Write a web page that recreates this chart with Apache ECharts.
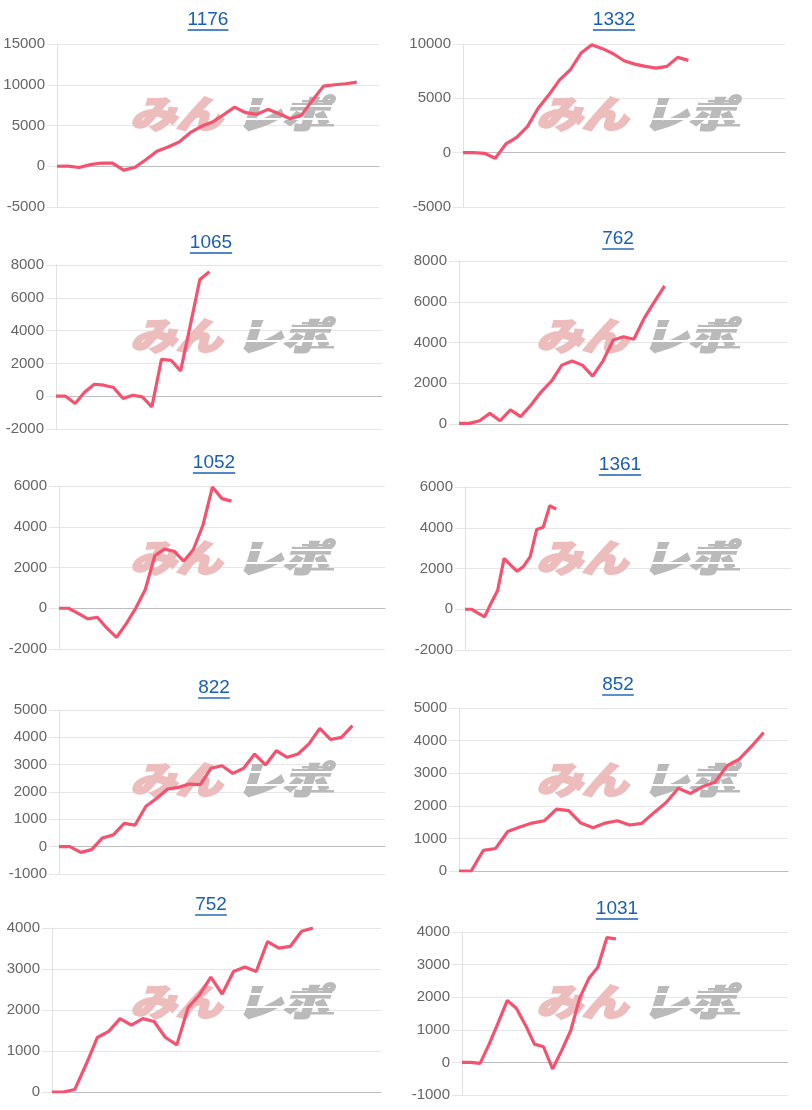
<!DOCTYPE html>
<html><head><meta charset="utf-8">
<script src="https://cdn.jsdelivr.net/npm/echarts@6/dist/echarts.min.js"></script>
<style>html,body{margin:0;padding:0;background:#fff}#c{width:812px;height:1110px}</style>
</head><body><div id="c"></div>
<script>
// ---- data ----
const chartTitles = ['1176','1332','1065','762','1052','1361','822','852','752','1031'];
const categoryCounts = [30,31,35,33,35,51,31,28,30,37];
const s1176 = [0,20,-150,200,400,380,-480,-150,800,1840,2370,2980,4120,4900,5430,6320,7260,6570,6370,6980,6450,5830,6240,8080,9830,10000,10120,10320];
const s1332 = [0,0,-60,-520,800,1400,2400,4090,5320,6700,7630,9170,9940,9570,9100,8460,8150,7940,7780,7940,8770,8490];
const s1065 = [0,0,-450,260,730,670,530,-140,60,-40,-650,2250,2190,1540,4300,7110,7590];
const s762  = [30,30,160,520,160,690,360,930,1580,2110,2890,3090,2890,2350,3090,4120,4280,4160,5180,5990,6780];
const s1052 = [0,0,-250,-520,-440,-980,-1430,-770,0,920,2590,2900,2800,2310,2870,4060,5950,5380,5260];
const s1361 = [0,0,-190,-370,300,915,2500,2165,1865,2115,2580,3915,4030,5080,4915];
const s822  = [0,0,-210,-110,320,430,850,790,1480,1770,2110,2170,2290,2270,2870,2960,2680,2870,3390,2990,3510,3270,3390,3760,4330,3920,4000,4430];
const s852  = [0,0,635,690,1210,1350,1470,1540,1900,1850,1470,1330,1470,1540,1410,1460,1790,2100,2540,2380,2590,2720,3230,3430,3820,4250];
const s752  = [0,0,60,670,1330,1480,1790,1630,1790,1720,1330,1150,2060,2370,2800,2390,2940,3050,2940,3670,3510,3550,3920,4000];
const s1031 = [0,0,-30,560,1220,1900,1660,1150,560,480,-200,360,970,1980,2570,2920,3830,3790];
const seriesValues = [s1176,s1332,s1065,s762,s1052,s1361,s822,s852,s752,s1031];
// y axis ranges
const yMins = [-5000,-5000,-2000,0,-2000,-2000,-1000,0,0,-1000];
const yMaxs = [15000,10000,8000,8000,6000,6000,5000,5000,4000,4000];
const yIntervals = [5000,5000,2000,2000,2000,2000,1000,1000,1000,1000];

// ---- layout ----
const grids = [
  {left:57, top:44, width:322, height:163},
  {left:463, top:44, width:322, height:163},
  {left:56, top:265, width:326, height:164},
  {left:459, top:261, width:329, height:163},
  {left:59, top:486, width:326, height:163},
  {left:465, top:487, width:326, height:163},
  {left:59, top:710, width:326, height:164},
  {left:459, top:708, width:329, height:163},
  {left:52, top:928, width:329, height:164},
  {left:462, top:932, width:326, height:163}
];
const titlePos = [[208,20],[614,20],[211,243],[618,239],[214,463],[620,465],[214,688],[618,685],[211,905],[617,909]];

const BLUE = '#1a5fb4';
const LINE = '#f5526f';
const PINK = '#edbdbd';
const GRAY = '#bababa';
const measure = (function(){const c=document.createElement('canvas').getContext('2d');c.font='19px "Liberation Sans", Arial';return t=>c.measureText(t).width;})();

const xAxes=[], yAxes=[], series=[], graphics=[];
for (let i=0;i<10;i++){
  const cats=[]; for(let k=1;k<=categoryCounts[i];k++) cats.push(String(k));
  xAxes.push({gridIndex:i,type:'category',data:cats,boundaryGap:false,
    axisLine:{show:true,onZero:true,lineStyle:{color:'#bdbdbd',width:1}},
    axisTick:{show:false},axisLabel:{show:false},splitLine:{show:false}});
  yAxes.push({gridIndex:i,type:'value',min:yMins[i],max:yMaxs[i],interval:yIntervals[i],
    axisLine:{show:true,lineStyle:{color:'#e2e2e2'}},
    axisTick:{show:true,length:10,lineStyle:{color:'#e6e6e6'}},
    axisLabel:{color:'#666',fontSize:15,fontFamily:'Liberation Sans, Arial',margin:12,formatter:v=>String(v)},
    splitLine:{show:true,lineStyle:{color:'#e6e6e6'}}});
  series.push({type:'line',xAxisIndex:i,yAxisIndex:i,data:seriesValues[i],symbol:'none',showSymbol:false,
    lineStyle:{color:LINE,width:3.2},itemStyle:{color:LINE},z:3});
  const [cx,cy]=titlePos[i];
  const w=measure(chartTitles[i]);
  graphics.push({type:'text',x:cx,y:cy,z:5,style:{text:chartTitles[i],fontSize:19,fontFamily:'Liberation Sans, Arial',fill:BLUE,align:'center',verticalAlign:'middle',textAlign:'center',textVerticalAlign:'middle'}});
  graphics.push({type:'line',z:5,shape:{x1:cx-w/2,y1:cy+10,x2:cx+w/2,y2:cy+10},style:{stroke:BLUE,lineWidth:1.4}});
  // watermark
  const px=(i%2)*406, py=Math.floor(i/2)*222;
  graphics.push({type:'group',x:px,y:py,z:1,children:[
    {type:'text',x:130,y:114,scaleY:0.82,z:1,style:{text:'みん',fontSize:46,fontWeight:900,fontStyle:'italic',fontFamily:'Noto Sans CJK JP',fill:PINK,stroke:PINK,lineWidth:2.5,align:'left',verticalAlign:'middle',textAlign:'left',textVerticalAlign:'middle'}},
    {type:'text',x:236,y:114,scaleY:0.82,z:1,style:{text:'レポ',fontSize:46,fontWeight:900,fontStyle:'italic',fontFamily:'Noto Sans CJK JP',fill:GRAY,stroke:GRAY,lineWidth:2.5,align:'left',verticalAlign:'middle',textAlign:'left',textVerticalAlign:'middle'}},
    {type:'rect',z:1,shape:{x:232,y:105,width:104,height:2},style:{fill:'#fff'}},
    {type:'rect',z:1,shape:{x:232,y:118,width:104,height:2},style:{fill:'#fff'}},
    {type:'rect',z:1,shape:{x:302,y:100,width:32,height:2.5},style:{fill:GRAY}},
    {type:'rect',z:1,shape:{x:298,y:124,width:36,height:2.5},style:{fill:GRAY}}
  ]});
}

const chart = echarts.init(document.getElementById('c'), null, {renderer:'canvas'});
chart.setOption({
  animation:false,
  backgroundColor:'#fff',
  grid:grids,
  xAxis:xAxes,
  yAxis:yAxes,
  series:series,
  graphic:{elements:graphics}
});
</script>
</body></html>
